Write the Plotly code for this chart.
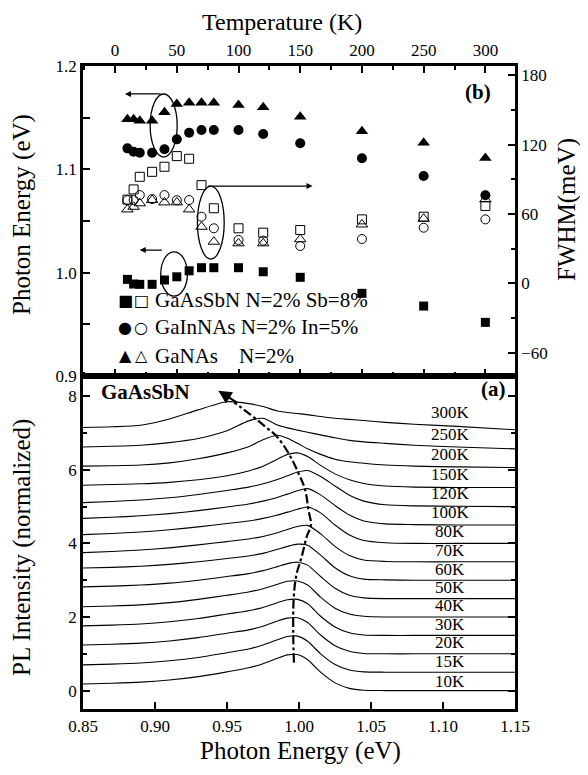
import plotly.graph_objects as go

# ---------------- data: panel (b) ----------------
temps = [10, 15, 20, 30, 40, 50, 60, 70, 80, 100, 120, 150, 200, 250, 300]

# PL peak energy (eV), filled symbols, left axis
E_GaAsSbN = [0.9935, 0.989, 0.9887, 0.9887, 0.9929, 0.996, 1.0018, 1.0048, 1.0048, 1.0048, 1.0009, 0.9955, 0.980, 0.9677, 0.9519]
E_GaInNAs = [1.1203, 1.117, 1.116, 1.116, 1.1194, 1.129, 1.1355, 1.138, 1.138, 1.138, 1.1342, 1.1252, 1.1107, 1.0935, 1.075]
E_GaNAs = [1.1484, 1.1484, 1.147, 1.147, 1.1552, 1.1632, 1.1645, 1.1645, 1.1645, 1.1622, 1.160, 1.151, 1.1368, 1.1258, 1.111]

# FWHM (meV), open symbols, right axis
F_GaAsSbN = [72.5, 81.3, 92.2, 96.5, 100.9, 110.1, 107.8, 85.0, 65.0, 47.7, 43.9, 46.2, 55.4, 57.7, 67.0]
F_GaInNAs = [72.0, 72.1, 76.4, 73.0, 76.4, 72.0, 72.1, 57.7, 47.7, 37.6, 37.0, 32.4, 38.4, 48.2, 55.4]
F_GaNAs = [64.0, 66.3, 69.3, 72.1, 70.1, 70.1, 64.0, 49.0, 36.1, 34.7, 34.7, 38.2, 51.0, 56.0, 72.7]

# ---------------- data: panel (a) ----------------
pl_energy = [0.85, 0.87, 0.89, 0.91, 0.93, 0.95, 0.965, 0.975, 0.985, 0.992, 0.999, 1.006,
             1.015, 1.025, 1.035, 1.045, 1.06, 1.08, 1.11, 1.15]
pl_10K = [0.18, 0.20, 0.23, 0.29, 0.38, 0.51, 0.62, 0.73, 0.88, 0.97, 0.98, 0.84, 0.50, 0.21, 0.06, 0.01, 0, 0, 0, 0]
pl_15K = [0.20, 0.22, 0.25, 0.31, 0.40, 0.53, 0.63, 0.74, 0.88, 0.97, 0.98, 0.84, 0.50, 0.21, 0.06, 0.01, 0, 0, 0, 0]
pl_20K = [0.24, 0.26, 0.29, 0.35, 0.44, 0.56, 0.65, 0.75, 0.89, 0.97, 0.98, 0.85, 0.51, 0.22, 0.07, 0.01, 0, 0, 0, 0]
pl_30K = [0.26, 0.28, 0.31, 0.37, 0.46, 0.58, 0.67, 0.76, 0.89, 0.97, 0.98, 0.86, 0.52, 0.23, 0.07, 0.01, 0, 0, 0, 0]
pl_40K = [0.28, 0.30, 0.33, 0.39, 0.48, 0.59, 0.68, 0.77, 0.89, 0.97, 0.98, 0.87, 0.54, 0.24, 0.08, 0.02, 0, 0, 0, 0]
pl_50K = [0.32, 0.34, 0.37, 0.42, 0.50, 0.60, 0.68, 0.76, 0.87, 0.95, 0.99, 0.91, 0.60, 0.28, 0.09, 0.02, 0, 0, 0, 0]
pl_60K = [0.33, 0.35, 0.38, 0.43, 0.50, 0.59, 0.66, 0.73, 0.84, 0.92, 0.98, 0.95, 0.68, 0.34, 0.12, 0.03, 0.01, 0, 0, 0]
pl_70K = [0.25, 0.28, 0.32, 0.38, 0.46, 0.55, 0.62, 0.69, 0.79, 0.88, 0.96, 0.99, 0.76, 0.42, 0.17, 0.05, 0.01, 0, 0, 0]
pl_80K = [0.24, 0.27, 0.31, 0.37, 0.45, 0.54, 0.61, 0.68, 0.77, 0.85, 0.93, 0.99, 0.83, 0.50, 0.23, 0.08, 0.02, 0, 0, 0]
pl_100K = [0.18, 0.21, 0.25, 0.31, 0.39, 0.49, 0.57, 0.65, 0.75, 0.84, 0.93, 0.99, 0.82, 0.53, 0.27, 0.11, 0.03, 0.01, 0, 0]
pl_120K = [0.11, 0.14, 0.18, 0.24, 0.33, 0.44, 0.53, 0.62, 0.74, 0.84, 0.94, 0.98, 0.82, 0.56, 0.31, 0.15, 0.05, 0.02, 0.01, 0]
pl_150K = [0.08, 0.10, 0.12, 0.16, 0.23, 0.34, 0.47, 0.60, 0.79, 0.92, 0.96, 0.86, 0.62, 0.39, 0.23, 0.13, 0.06, 0.03, 0.02, 0.02]
pl_200K = [0.10, 0.11, 0.13, 0.19, 0.30, 0.46, 0.63, 0.82, 0.94, 0.86, 0.72, 0.57, 0.42, 0.29, 0.22, 0.18, 0.13, 0.10, 0.08, 0.06]
pl_250K = [0.12, 0.14, 0.17, 0.24, 0.35, 0.56, 0.83, 0.90, 0.72, 0.64, 0.58, 0.52, 0.45, 0.37, 0.30, 0.26, 0.22, 0.17, 0.12, 0.07]
pl_300K = [0.15, 0.17, 0.21, 0.38, 0.63, 0.85, 0.80, 0.72, 0.60, 0.56, 0.53, 0.50, 0.45, 0.40, 0.37, 0.34, 0.29, 0.24, 0.18, 0.09]
spectra = [pl_10K, pl_15K, pl_20K, pl_30K, pl_40K, pl_50K, pl_60K, pl_70K, pl_80K,
           pl_100K, pl_120K, pl_150K, pl_200K, pl_250K, pl_300K]
pl_offsets = [0, 0.5, 1.0, 1.5, 2.0, 2.5, 3.0, 3.5, 4.0, 4.5, 5.0, 5.5, 6.0, 6.5, 7.0]
pl_labels = ["10K", "15K", "20K", "30K", "40K", "50K", "60K", "70K", "80K",
             "100K", "120K", "150K", "200K", "250K", "300K"]

# peak-position guide (dash-dot)
peak_path_E = [0.9965, 0.996, 0.9963, 0.998, 1.002, 1.0055, 1.0083, 1.0065, 1.0042, 0.9995, 0.9926, 0.9845, 0.9764, 0.966, 0.955]
peak_path_I = [0.76, 1.5, 2.48, 3.11, 3.66, 4.2, 4.5, 4.92, 5.47, 5.92, 6.46, 6.91, 7.18, 7.51, 7.83]

# ---------------- layout constants ----------------
FONT = "Liberation Serif, 'Times New Roman', serif"
label_dy = [0.26, 0.30, 0.30, 0.30, 0.30, 0.30, 0.30, 0.30, 0.32, 0.34, 0.36, 0.38, 0.42, 0.47, 0.56]
W, H = 572, 759           # page adds an 8 px body margin
L, T = 75, 58
R = W - L - 432
B = H - T - 643
split = 333 / 643

def px2paper(px, py):
    # px, py are screenshot pixels (figure is offset by the 8 px body margin)
    return (px - 8 - L) / 432, (H - B - (py - 8)) / 643

fig = go.Figure()

# panel (a) spectra
for vals, off in zip(spectra, pl_offsets):
    fig.add_trace(go.Scatter(
        x=pl_energy, y=[v + off for v in vals], mode="lines",
        line=dict(color="black", width=1.1, shape="spline", smoothing=0.7),
        xaxis="x", yaxis="y", showlegend=False, hoverinfo="skip"))

fig.add_trace(go.Scatter(
    x=peak_path_E, y=peak_path_I, mode="lines",
    line=dict(color="black", width=2.2, dash="dashdot", shape="spline"),
    xaxis="x", yaxis="y", showlegend=False))

# panel (b) filled (energy)
for vals, sym, sz in [(E_GaAsSbN, "square", 9), (E_GaInNAs, "circle", 10), (E_GaNAs, "triangle-up", 11)]:
    fig.add_trace(go.Scatter(
        x=temps, y=vals, mode="markers",
        marker=dict(symbol=sym, size=sz, color="black"),
        xaxis="x2", yaxis="y2", showlegend=False))
# panel (b) open (FWHM)
for vals, sym, sz in [(F_GaAsSbN, "square-open", 9), (F_GaInNAs, "circle-open", 9), (F_GaNAs, "triangle-up-open", 10)]:
    fig.add_trace(go.Scatter(
        x=temps, y=vals, mode="markers",
        marker=dict(symbol=sym, size=sz, color="black", line=dict(width=1)),
        xaxis="x2", yaxis="y3", showlegend=False))

axis_common = dict(showgrid=False, zeroline=False, showline=True, linecolor="black",
                   linewidth=2.5, ticks="inside", ticklen=7, tickwidth=2, tickcolor="black",
                   automargin=False,
                   tickfont=dict(family=FONT, size=17, color="black"))

fig.update_layout(
    width=W, height=H, margin=dict(l=L, r=R, t=T, b=B),
    paper_bgcolor="white", plot_bgcolor="white",
    font=dict(family=FONT, color="black"),
    xaxis=dict(**axis_common, domain=[0, 1], anchor="y", range=[0.85, 1.15],
               tickvals=[0.85, 0.90, 0.95, 1.00, 1.05, 1.10, 1.15], tickformat=".2f",
               mirror=True),
    yaxis=dict(**axis_common, domain=[0, split], anchor="x", range=[-0.5, 8.55],
               tickvals=[0, 2, 4, 6, 8], mirror="ticks",
               minor=dict(dtick=1, ticks="inside", ticklen=4, tickwidth=1.5, tickcolor="black")),
    xaxis2=dict(**axis_common, domain=[0, 1], anchor="y2", side="top", range=[-26, 324],
                tickvals=[0, 50, 100, 150, 200, 250, 300], mirror="ticks",
                minor=dict(dtick=25, tick0=0, ticks="inside", ticklen=4, tickwidth=1.5, tickcolor="black")),
    yaxis2=dict(**axis_common, domain=[split, 1], anchor="x2", range=[0.9, 1.2],
                tickvals=[0.9, 1.0, 1.1, 1.2], tickformat=".1f",
                minor=dict(dtick=0.05, tick0=0.9, ticks="inside", ticklen=7, tickwidth=2, tickcolor="black")),
    yaxis3=dict(**axis_common, domain=[split, 1], anchor="x2", overlaying="y2", side="right",
                range=[-80, 188], tickvals=[-60, 0, 60, 120, 180],
                minor=dict(dtick=30, tick0=0, ticks="inside", ticklen=4, tickwidth=1.5, tickcolor="black")),
)

ann = []
# titles
def title(text, px, py, angle=0, size=25):
    x, y = px2paper(px, py)
    ann.append(dict(text=text, x=x, y=y, xref="paper", yref="paper", showarrow=False,
                    textangle=angle, xanchor="center", yanchor="middle",
                    font=dict(family=FONT, size=size, color="black")))
title("Temperature (K)", 282, 22, size=24)
title("Photon Energy (eV)", 300, 751)
title("Photon Energy (eV)", 22, 215, -90)
title("PL Intensity (normalized)", 22, 548, -90)
title("FWHM(meV)", 567, 210, -90)

# panel labels
for text, px, py in [("(b)", 478, 92), ("(a)", 493, 389), ("GaAsSbN", 145, 392)]:
    x, y = px2paper(px, py)
    ann.append(dict(text="<b>%s</b>" % text, x=x, y=y, xref="paper", yref="paper",
                    showarrow=False, xanchor="center", yanchor="middle",
                    font=dict(family=FONT, size=21, color="black")))

# temperature labels on spectra
for lab, off, dy in zip(pl_labels, pl_offsets, label_dy):
    ann.append(dict(text=lab, x=1.105, y=off + dy, xref="x", yref="y", showarrow=False,
                    xanchor="center", yanchor="middle",
                    font=dict(family=FONT, size=17, color="black")))

# legend rows of panel (b)
legend_rows = [("\u25A0", "\u25A1", "GaAsSbN N=2% Sb=8%", 300),
               ("\u25CF", "\u25CB", "GaInNAs N=2% In=5%", 327),
               ("\u25B2", "\u25B3", "GaNAs\u00a0\u00a0\u00a0\u00a0N=2%", 356)]
for f, o, txt, py in legend_rows:
    for sym, px in [(f, 125), (o, 141)]:
        x, y = px2paper(px, py)
        ann.append(dict(text=sym, x=x, y=y, xref="paper", yref="paper", showarrow=False,
                        xanchor="center", yanchor="middle",
                        font=dict(family="DejaVu Sans", size=16, color="black")))
    x, y = px2paper(153, py)
    ann.append(dict(text=txt, x=x, y=y, xref="paper", yref="paper", showarrow=False,
                    xanchor="left", yanchor="middle",
                    font=dict(family=FONT, size=21, color="black")))

# arrows in panel (b)
for (hx, hy), (tx, ty) in [((8, 1.173), (38, 1.173)),
                           ((160, 1.0838), (74, 1.0838)),
                           ((20, 1.0219), (39, 1.0219))]:
    ann.append(dict(x=hx, y=hy, ax=tx, ay=ty, xref="x2", yref="y2", axref="x2", ayref="y2",
                    showarrow=True, arrowhead=2, arrowsize=1, arrowwidth=1.2, arrowcolor="black", text=""))
# arrow at the end of the dash-dot guide
ann.append(dict(x=0.944, y=8.15, ax=0.958, ay=7.8, xref="x", yref="y", axref="x", ayref="y",
                showarrow=True, arrowhead=2, arrowsize=1.2, arrowwidth=2.2, arrowcolor="black", text=""))

fig.update_layout(annotations=ann)

# ellipses in panel (b)
for x0, x1, y0, y1 in [(28.4, 50.3, 1.1119, 1.1729), (66.7, 88.4, 1.0132, 1.0838), (37, 58.6, 0.9773, 1.0202)]:
    fig.add_shape(type="circle", xref="x2", yref="y2", x0=x0, x1=x1, y0=y0, y1=y1,
                  line=dict(color="black", width=1.3))

fig.write_html("out.html")
